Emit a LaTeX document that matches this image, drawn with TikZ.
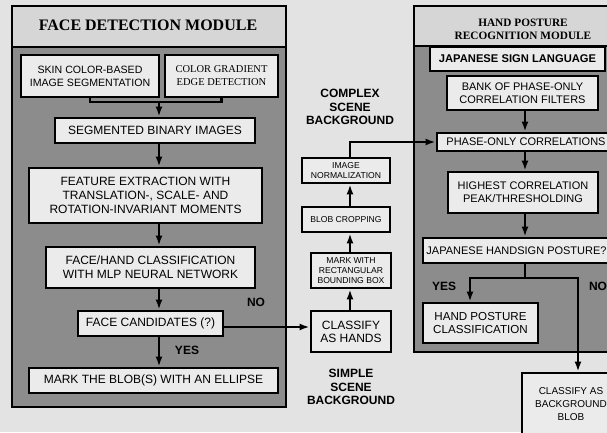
\documentclass[tikz,border=0pt]{standalone}
\usepackage{fontspec}
\setmainfont{Liberation Serif}
\setsansfont{Liberation Sans}
\usetikzlibrary{arrows.meta,calc}
\definecolor{paper}{gray}{0.89}
\definecolor{band}{gray}{0.84}
\definecolor{body}{gray}{0.55}
\definecolor{boxfill}{gray}{0.92}
\tikzset{
  modbox/.style={draw, line width=2.8pt, fill=body, inner sep=0pt},
  bandbox/.style={draw, line width=2.8pt, fill=band, inner sep=0pt},
  box/.style={draw, line width=2.8pt, fill=boxfill, inner sep=0pt, align=center,
    font=\sffamily\fontsize{12}{14}\selectfont},
  boxr/.style={box, font=\sffamily\fontsize{11}{12.6}\selectfont},
  boxs/.style={box, font=\sffamily\fontsize{8.6}{10}\selectfont},
  title/.style={align=center, inner sep=0pt},
  lbl/.style={font=\sffamily\bfseries\fontsize{12}{13.4}\selectfont, align=center, inner sep=0pt},
  conn/.style={line width=2.5pt},
  arr/.style={line width=2.5pt, -{Latex[length=10pt,width=7pt]}}
}
\begin{document}
\begin{tikzpicture}[x=1pt,y=-1pt]
\useasboundingbox (0,0) rectangle (607,432);
\clip (0,0) rectangle (607,432);
\fill[paper] (0,0) rectangle (607,432);

% ---------- Face detection module ----------
\node[modbox, minimum width=274pt, minimum height=401pt] (faceMod) at (149,206.5) {};
\node[bandbox, minimum width=274pt, minimum height=41pt] (faceBand) at (149,26.5) {};
\node[title, font=\rmfamily\bfseries\fontsize{16}{18}\selectfont] (faceTitle) at (148,25) {FACE DETECTION MODULE};

\node[box, font=\sffamily\fontsize{10.6}{13}\selectfont, minimum width=138pt, minimum height=42pt] (skin) at (90,76) {SKIN COLOR-BASED\\IMAGE SEGMENTATION};
\node[box, font=\rmfamily\fontsize{10.5}{13}\selectfont, minimum width=113pt, minimum height=42pt] (grad) at (221.5,76) {COLOR GRADIENT\\EDGE DETECTION};
\node[box, minimum width=200pt, minimum height=25pt] (seg) at (155,130.5) {SEGMENTED BINARY IMAGES};
\node[box, minimum width=233pt, minimum height=55pt] (feat) at (145.5,195.5) {FEATURE EXTRACTION WITH\\TRANSLATION-, SCALE- AND\\ROTATION-INVARIANT MOMENTS};
\node[box, minimum width=209pt, minimum height=41pt] (mlp) at (150.5,267.5) {FACE/HAND CLASSIFICATION\\WITH MLP NEURAL NETWORK};
\node[box, minimum width=145pt, minimum height=25pt] (cand) at (150.5,323.5) {FACE CANDIDATES (?)};
\node[box, minimum width=249pt, minimum height=25pt] (mark) at (153.5,380.5) {MARK THE BLOB(S) WITH AN ELLIPSE};

\coordinate (lx) at (159,0);
\coordinate (join) at (159,102);
\draw[conn] (skin.south) |- (join) -| (grad.south);
\draw[arr] (join) -- (seg.north -| lx);
\draw[arr] (seg.south -| lx) -- (feat.north -| lx);
\draw[arr] (feat.south -| lx) -- (mlp.north -| lx);
\draw[arr] (mlp.south -| lx) -- (cand.north -| lx);
\draw[arr] (cand.south -| lx) -- (mark.north -| lx);
\node[lbl] (yesL) at (187,350) {YES};
\node[lbl] (noL) at (256,302) {NO};

% ---------- Middle column ----------
\node[lbl] (complex) at (350,107) {COMPLEX\\SCENE\\BACKGROUND};
\node[lbl] (simple) at (351,387) {SIMPLE\\SCENE\\BACKGROUND};
\node[boxs, minimum width=88pt, minimum height=25pt] (norm) at (346,170.5) {IMAGE\\NORMALIZATION};
\node[boxs, minimum width=88pt, minimum height=25pt] (crop) at (346,219.5) {BLOB CROPPING};
\node[boxs, minimum width=80pt, minimum height=35pt] (bbox) at (351,270.5) {MARK WITH\\RECTANGULAR\\BOUNDING BOX};
\node[box, font=\sffamily\fontsize{12}{13.2}\selectfont, minimum width=80pt, minimum height=41pt] (hands) at (351,331.5) {CLASSIFY\\AS HANDS};

\coordinate (mx) at (350,0);
\coordinate (hy) at (0,327);
\draw[arr] (cand.east |- hy) -- (hands.west |- hy);
\draw[arr] (hands.north -| mx) -- (bbox.south -| mx);
\draw[arr] (bbox.north -| mx) -- (crop.south -| mx);
\draw[arr] (crop.north -| mx) -- (norm.south -| mx);

% ---------- Hand posture recognition module ----------
\node[modbox, minimum width=206pt, minimum height=346pt] (handMod) at (517,179) {};
\node[bandbox, minimum width=206pt, minimum height=40pt] (handBand) at (517,26) {};
\node[title, font=\rmfamily\bfseries\fontsize{11.3}{13}\selectfont] (handTitle) at (523,29.5) {HAND POSTURE\\RECOGNITION MODULE};

\node[box, font=\sffamily\bfseries\fontsize{11.2}{13}\selectfont, minimum width=175pt, minimum height=24pt] (jsl) at (517.5,59) {JAPANESE SIGN LANGUAGE};
\node[boxr, minimum width=151pt, minimum height=34pt] (bank) at (522.5,93) {BANK OF PHASE-ONLY\\CORRELATION FILTERS};
\node[boxr, minimum width=178pt, minimum height=18pt] (poc) at (526,142) {PHASE-ONLY CORRELATIONS};
\node[boxr, minimum width=150pt, minimum height=41pt] (high) at (523,192.5) {HIGHEST CORRELATION\\PEAK/THRESHOLDING};
\node[boxr, minimum width=187pt, minimum height=25pt] (jhp) at (516.5,250.5) {JAPANESE HANDSIGN POSTURE?};
\node[box, font=\sffamily\fontsize{11.6}{13}\selectfont, minimum width=115pt, minimum height=40pt] (hpc) at (480.5,323) {HAND POSTURE\\CLASSIFICATION};
\node[box, font=\sffamily\fontsize{10}{12.6}\selectfont, minimum width=98pt, minimum height=62pt] (bgb) at (571,404) {CLASSIFY AS\\BACKGROUND\\BLOB};

\draw[arr] (norm.north -| mx) |- (poc.west);

\coordinate (rx) at (525,0);
\coordinate (by) at (0,278);
\coordinate (yx) at (470,0);
\coordinate (nx) at (578,0);
\draw[arr] (bank.south -| rx) -- (poc.north -| rx);
\draw[arr] (poc.south -| rx) -- (high.north -| rx);
\draw[arr] (high.south -| rx) -- (jhp.north -| rx);
\draw[conn] (jhp.south -| rx) -- (rx |- by) coordinate (br);
\draw[arr] (br) -| (hpc.north -| yx);
\draw[arr] (br) -| (bgb.north -| nx);
\node[lbl] (yesR) at (444,286) {YES};
\node[lbl] (noR) at (598,286) {NO};
\end{tikzpicture}
\end{document}
